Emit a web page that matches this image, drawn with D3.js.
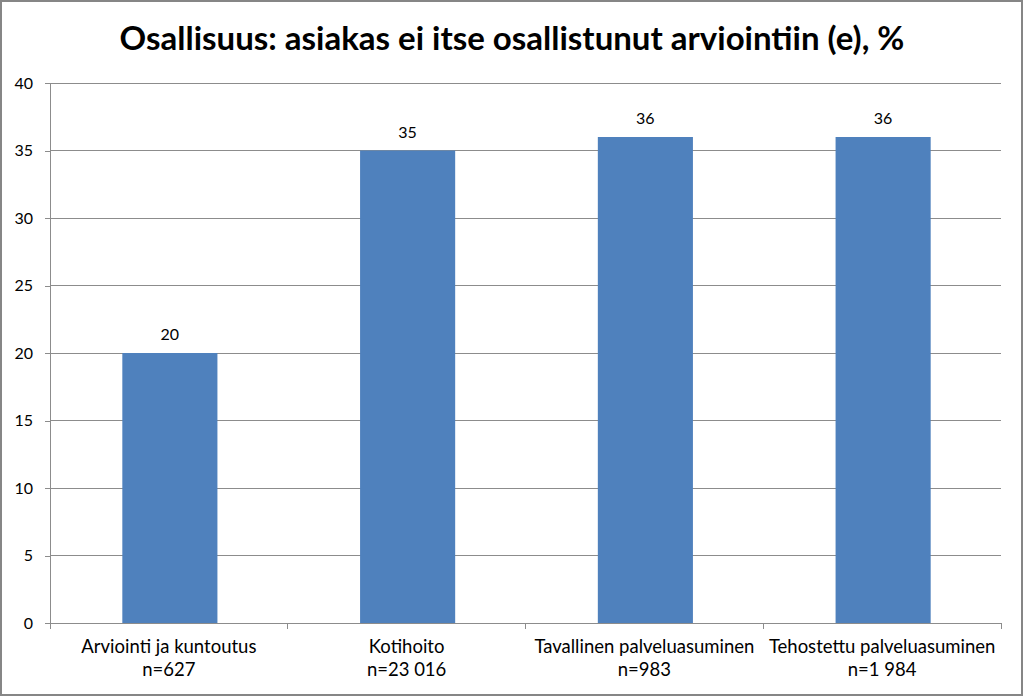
<!doctype html>
<html lang="fi">

<head>
    <meta charset="UTF-8" />
    <script src="https://d3js.org/d3.v7.min.js"></script>
    <title>Osallisuus</title>
    <style>
        body { margin: 0; background: #fff; }
        text { font-family: Lato, "Open Sans", sans-serif; fill: #000; }
    </style>
</head>

<body>
    <div id="chart"></div>
    <script>
        // Data
        const categories = ["Arviointi ja kuntoutus", "Kotihoito", "Tavallinen palveluasuminen", "Tehostettu palveluasuminen"]
        const sampleSizes = ["n=627", "n=23 016", "n=983", "n=1 984"]
        const values = [20, 35, 36, 36]
        const yTicks = [0, 5, 10, 15, 20, 25, 30, 35, 40]
        const title = "Osallisuus: asiakas ei itse osallistunut arviointiin (e), %"

        const W = 1024, H = 697
        const margin = { top: 83, right: 23, bottom: 74, left: 50 }
        const width = W - margin.left - margin.right
        const height = H - margin.top - margin.bottom

        const svg = d3.select("#chart").append("svg")
            .attr("width", W)
            .attr("height", H)

        // outer chart border
        svg.append("rect")
            .attr("x", 1).attr("y", 1)
            .attr("width", W - 3).attr("height", H - 3)
            .attr("fill", "#fff")
            .attr("stroke", "#868686")
            .attr("stroke-width", 2)

        svg.append("text")
            .attr("x", 512)
            .attr("y", 50)
            .attr("text-anchor", "middle")
            .attr("font-size", "33px")
            .attr("font-weight", "bold")
            .text(title)

        const g = svg.append("g")
            .attr("transform", `translate(${margin.left},${margin.top})`)

        const x = d3.scaleBand().domain(categories).range([0, width]).paddingInner(0.6).paddingOuter(0.3)
        const xBand = d3.scaleBand().domain(categories).range([0, width])
        const y = d3.scaleLinear().domain([0, 40]).range([height, 0])

        // horizontal gridlines
        g.append("g")
            .selectAll("line")
            .data(yTicks.filter(d => d > 0))
            .join("line")
            .attr("x1", 0).attr("x2", width)
            .attr("y1", d => y(d)).attr("y2", d => y(d))
            .attr("stroke", "#8c8c8c")
            .attr("stroke-width", 1)
            .attr("shape-rendering", "crispEdges")

        // y axis
        const yAxis = g.append("g")
            .call(d3.axisLeft(y).tickValues(yTicks).tickSize(5).tickPadding(12))
        yAxis.select(".domain").attr("stroke", "#8c8c8c").attr("shape-rendering", "crispEdges")
        yAxis.selectAll(".tick line").attr("stroke", "#8c8c8c").attr("shape-rendering", "crispEdges")
        yAxis.selectAll("text").attr("font-size", "16px").attr("font-family", "Lato, sans-serif").attr("fill", "#000")

        // bars
        g.selectAll(".bar")
            .data(values)
            .join("rect")
            .attr("class", "bar")
            .attr("x", (d, i) => x(categories[i]) + 1)
            .attr("y", d => y(d))
            .attr("width", x.bandwidth())
            .attr("height", d => height - y(d))
            .attr("fill", "#4f81bd")

        // value labels
        g.selectAll(".vlabel")
            .data(values)
            .join("text")
            .attr("class", "vlabel")
            .attr("x", (d, i) => x(categories[i]) + x.bandwidth() / 2 + 1)
            .attr("y", d => y(d) - 13)
            .attr("text-anchor", "middle")
            .attr("font-size", "16px")
            .text(d => d)

        // x axis line and category ticks
        g.append("line")
            .attr("x1", 0).attr("x2", width)
            .attr("y1", height).attr("y2", height)
            .attr("stroke", "#8c8c8c")
            .attr("shape-rendering", "crispEdges")

        const bounds = categories.map(c => xBand(c)).concat([width])
        g.append("g")
            .selectAll("line")
            .data(bounds)
            .join("line")
            .attr("x1", d => d).attr("x2", d => d)
            .attr("y1", height).attr("y2", height + 6)
            .attr("stroke", "#8c8c8c")
            .attr("shape-rendering", "crispEdges")

        // category labels
        const cat = g.append("g")
            .selectAll("text")
            .data(categories)
            .join("text")
            .attr("x", d => xBand(d) + xBand.bandwidth() / 2)
            .attr("y", height + 30)
            .attr("text-anchor", "middle")
            .attr("font-size", "18.5px")
        cat.append("tspan").text(d => d)
        cat.append("tspan")
            .attr("x", d => xBand(d) + xBand.bandwidth() / 2)
            .attr("dy", 23)
            .text((d, i) => sampleSizes[i])
    </script>
</body>

</html>
